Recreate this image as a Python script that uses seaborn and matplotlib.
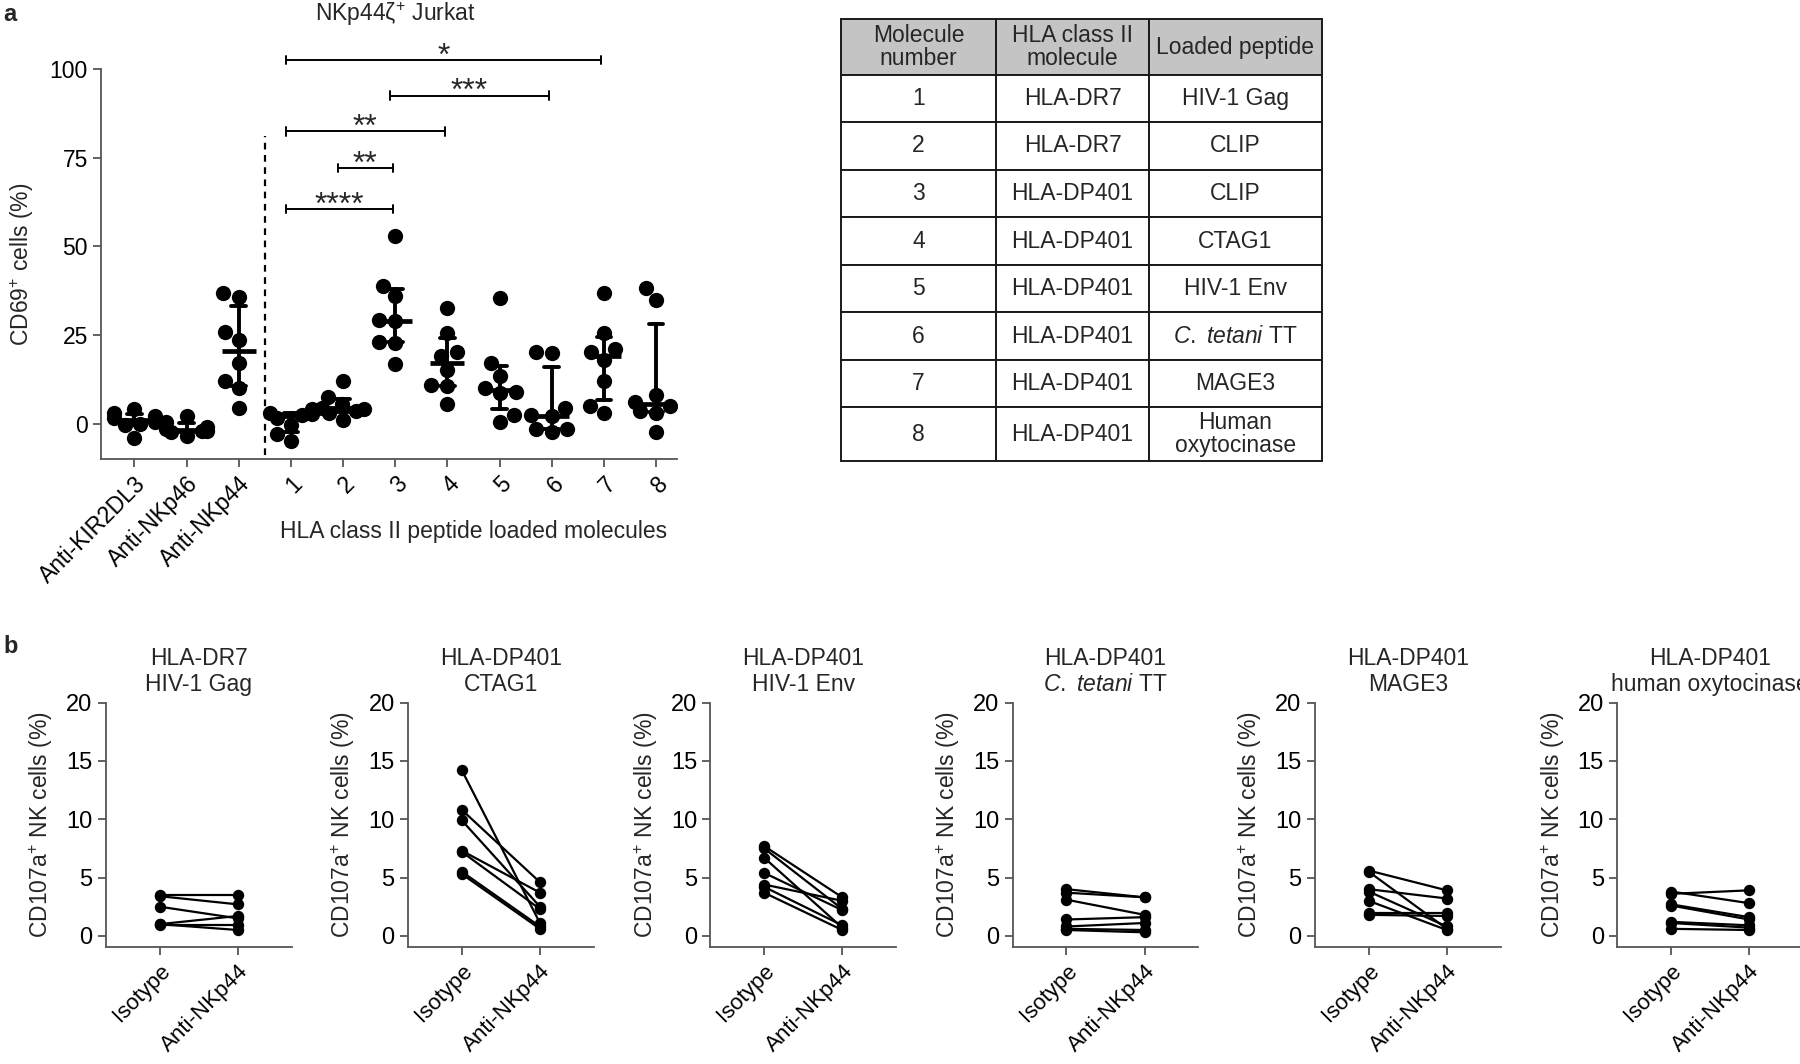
import numpy as np
import pandas as pd
import matplotlib
matplotlib.use("Agg")
import matplotlib.pyplot as plt
import matplotlib.transforms as mtransforms
import seaborn as sns

sns.set_theme(style="ticks")
plt.rcParams["font.family"] = ["Liberation Sans", "DejaVu Sans"]
plt.rcParams["mathtext.fontset"] = "custom"
plt.rcParams["mathtext.rm"] = "Liberation Sans"
plt.rcParams["mathtext.it"] = "Liberation Sans:italic"
plt.rcParams["mathtext.bf"] = "Liberation Sans:bold"
plt.rcParams["font.size"] = 16

# ---------------- Panel a data ----------------
groups_a = ["Anti-KIR2DL3", "Anti-NKp46", "Anti-NKp44", "1", "2", "3", "4", "5", "6", "7", "8"]
vals_kir = [4.0, 3.0, 2.0, 1.5, 0.5, 0.0, -0.5, -4.0]
vals_nkp46 = [2.0, 0.5, -1.0, -1.5, -2.0, -2.0, -2.5, -3.5]
vals_nkp44 = [36.7, 35.7, 25.8, 23.6, 17.1, 12.0, 10.0, 4.5]
vals_m1 = [4.0, 3.0, 2.7, 2.5, 1.5, -0.5, -3.0, -5.0]
vals_m2 = [12.0, 7.5, 5.5, 4.5, 4.0, 3.5, 3.0, 1.0]
vals_m3 = [52.8, 38.7, 35.9, 29.1, 28.8, 23.1, 22.8, 16.8]
vals_m4 = [32.7, 25.6, 20.1, 19.1, 15.1, 10.8, 10.6, 5.5]
vals_m5 = [35.5, 17.1, 13.4, 10.0, 9.0, 8.5, 2.5, 0.5]
vals_m6 = [20.1, 19.8, 4.5, 2.3, 2.0, -1.5, -1.5, -2.5]
vals_m7 = [36.9, 25.6, 21.0, 20.3, 17.8, 12.1, 5.0, 3.0]
vals_m8 = [38.2, 34.9, 8.0, 6.0, 5.0, 3.5, 3.0, -2.5]

sig_left = ["1", "2", "1", "3", "1"]
sig_right = ["3", "3", "4", "6", "7"]
sig_height = [60.5, 72.0, 82.4, 92.5, 102.5]
sig_label = ["****", "**", "**", "***", "*"]

# ---------------- Table data ----------------
table_header = ["Molecule\nnumber", "HLA class II\nmolecule", "Loaded peptide"]
table_number = ["1", "2", "3", "4", "5", "6", "7", "8"]
table_molecule = ["HLA-DR7", "HLA-DR7", "HLA-DP401", "HLA-DP401", "HLA-DP401",
                  "HLA-DP401", "HLA-DP401", "HLA-DP401"]
table_peptide = ["HIV-1 Gag", "CLIP", "CLIP", "CTAG1", "HIV-1 Env",
                 r"$\mathit{C.\ tetani}$ TT", "MAGE3", "Human\noxytocinase"]

# ---------------- Panel b data ----------------
b_titles = ["HLA-DR7\nHIV-1 Gag", "HLA-DP401\nCTAG1", "HLA-DP401\nHIV-1 Env",
            "HLA-DP401\n" + r"$\mathit{C.\ tetani}$ TT", "HLA-DP401\nMAGE3",
            "HLA-DP401\nhuman oxytocinase"]
b_conditions = ["Isotype", "Anti-NKp44"]
b_iso_1 = [3.5, 3.4, 2.5, 1.0, 0.9, 1.0]
b_anti_1 = [3.5, 2.7, 1.5, 1.7, 0.9, 0.5]
b_iso_2 = [14.2, 10.8, 9.9, 7.3, 7.2, 5.5, 5.3]
b_anti_2 = [1.1, 4.6, 2.5, 3.7, 2.3, 0.8, 0.6]
b_iso_3 = [7.7, 7.5, 6.7, 5.4, 4.4, 4.2, 3.7]
b_anti_3 = [3.3, 2.3, 0.7, 2.2, 3.0, 0.9, 0.5]
b_iso_4 = [4.0, 3.7, 3.1, 1.4, 0.8, 0.6, 0.5]
b_anti_4 = [3.3, 3.3, 1.8, 1.6, 1.1, 0.5, 0.3]
b_iso_5 = [5.6, 5.5, 4.0, 3.8, 3.0, 2.0, 1.8]
b_anti_5 = [3.9, 0.6, 3.2, 0.8, 0.5, 2.0, 1.7]
b_iso_6 = [3.6, 3.8, 2.7, 2.6, 1.2, 1.1, 0.6]
b_anti_6 = [3.9, 2.8, 1.6, 1.4, 0.9, 0.7, 0.5]

SPINE = "#555555"


def style_axes(ax, labelsize=16):
    sns.despine(ax=ax)
    for s in ["left", "bottom"]:
        ax.spines[s].set_color(SPINE)
        ax.spines[s].set_linewidth(1.3)
    ax.tick_params(axis="both", colors=SPINE, labelcolor="black", length=6, width=1.3,
                   labelsize=labelsize)


fig = plt.figure(figsize=(18, 10.64), dpi=100)

# ================= Panel a =================
ax = fig.add_axes([0.0561, 0.5686, 0.32, 0.3666])
all_vals = [vals_kir, vals_nkp46, vals_nkp44, vals_m1, vals_m2, vals_m3, vals_m4,
            vals_m5, vals_m6, vals_m7, vals_m8]
dfa = pd.DataFrame({
    "group": np.repeat(groups_a, [len(v) for v in all_vals]),
    "value": np.concatenate(all_vals),
})


def iqr(x):
    return (np.percentile(x, 25, method="weibull"), np.percentile(x, 75, method="weibull"))


sns.swarmplot(data=dfa, x="group", y="value", order=groups_a, color="black", size=11,
              ax=ax, zorder=2)
sns.pointplot(data=dfa, x="group", y="value", order=groups_a, estimator=np.median,
              errorbar=iqr, color="black", linestyle="none", marker="_", markersize=25,
              markeredgewidth=3.4, capsize=0.28, err_kws={"linewidth": 2.8}, ax=ax,
              zorder=3)
ax.set_xlim(-0.64, 10.4)
ax.set_ylim(-10, 100)
ax.set_yticks([0, 25, 50, 75, 100])
style_axes(ax, 16.5)
ax.set_xlabel("")
ax.set_ylabel(r"CD69$^{+}$ cells (%)", fontsize=16.5, labelpad=10)
plt.setp(ax.get_xticklabels(), rotation=45, ha="right", rotation_mode="anchor")

# dashed separator
sep = groups_a.index("Anti-NKp44") + 0.5
ax.plot([sep, sep], [-9, 81], color="black", ls=(0, (3, 2.5)), lw=1.6, clip_on=False)

# significance brackets
for l, r, h, lab in zip(sig_left, sig_right, sig_height, sig_label):
    x1, x2 = groups_a.index(l) - 0.1, groups_a.index(r) - 0.05
    ax.plot([x1, x2], [h, h], color="black", lw=1.4, clip_on=False)
    ax.plot([x1, x1], [h - 1.2, h + 1.2], color="black", lw=1.4, clip_on=False)
    ax.plot([x2, x2], [h - 1.2, h + 1.2], color="black", lw=1.4, clip_on=False)
    ax.text((x1 + x2) / 2, h + 1.0, lab, ha="center", va="center", fontsize=23,
            clip_on=False)

trans = mtransforms.blended_transform_factory(ax.transData, ax.transAxes)
ax.text(groups_a.index("3"), 1.14, r"NKp44ζ$^{+}$ Jurkat", transform=trans,
        ha="center", va="center", fontsize=16.5)
ax.text(6.5, -0.185, "HLA class II peptide loaded molecules", transform=trans,
        ha="center", va="center", fontsize=16.5)

fig.text(0.002, 0.997, "a", fontsize=17, fontweight="bold", va="top", ha="left")
fig.text(0.002, 0.403, "b", fontsize=17, fontweight="bold", va="top", ha="left")

# ================= Table =================
axt = fig.add_axes([0.4672, 0.5663, 0.2672, 0.4154])
axt.axis("off")
cell_text = [[a, b, c] for a, b, c in zip(table_number, table_molecule, table_peptide)]
tbl = axt.table(cellText=cell_text, colLabels=table_header, cellLoc="center",
                colWidths=[0.323, 0.317, 0.36], bbox=[0, 0, 1, 1])
tbl.auto_set_font_size(False)
tbl.set_fontsize(16.5)
n_rows = len(table_number)
for (r, c), cell in tbl.get_celld().items():
    cell.set_linewidth(1.4)
    cell.set_edgecolor("#1a1a1a")
    if r == 0:
        cell.set_facecolor("#c4c4c4")
        cell.set_height(48)
    elif r == n_rows:
        cell.set_height(47)
    else:
        cell.set_height(41.4)
    cell.get_text().set_linespacing(1.0)

# ================= Panel b =================
b_iso = [b_iso_1, b_iso_2, b_iso_3, b_iso_4, b_iso_5, b_iso_6]
b_anti = [b_anti_1, b_anti_2, b_anti_3, b_anti_4, b_anti_5, b_anti_6]
for k in range(6):
    left = (105.6 + 302.3 * k) / 1800
    axb = fig.add_axes([left, 0.1095, 0.1033, 0.2302])
    n = len(b_iso[k])
    dfb = pd.DataFrame({
        "donor": list(range(n)) * 2,
        "condition": [b_conditions[0]] * n + [b_conditions[1]] * n,
        "value": b_iso[k] + b_anti[k],
    })
    sns.pointplot(data=dfb, x="condition", y="value", hue="donor", order=b_conditions,
                  palette=["black"] * n, errorbar=None, marker="o", markersize=7,
                  linewidth=1.6, legend=False, ax=axb)
    axb.set_xlim(-0.69, 1.69)
    axb.set_ylim(-1, 20)
    axb.set_yticks([0, 5, 10, 15, 20])
    style_axes(axb, 17)
    axb.tick_params(axis="x", labelsize=16)
    axb.set_xlabel("")
    axb.set_ylabel(r"CD107a$^{+}$ NK cells (%)", fontsize=16.5, labelpad=8)
    axb.set_title(b_titles[k], fontsize=16.5, pad=8)
    plt.setp(axb.get_xticklabels(), rotation=45, ha="right", rotation_mode="anchor")

fig.savefig("out.png", dpi=100, facecolor="white")
